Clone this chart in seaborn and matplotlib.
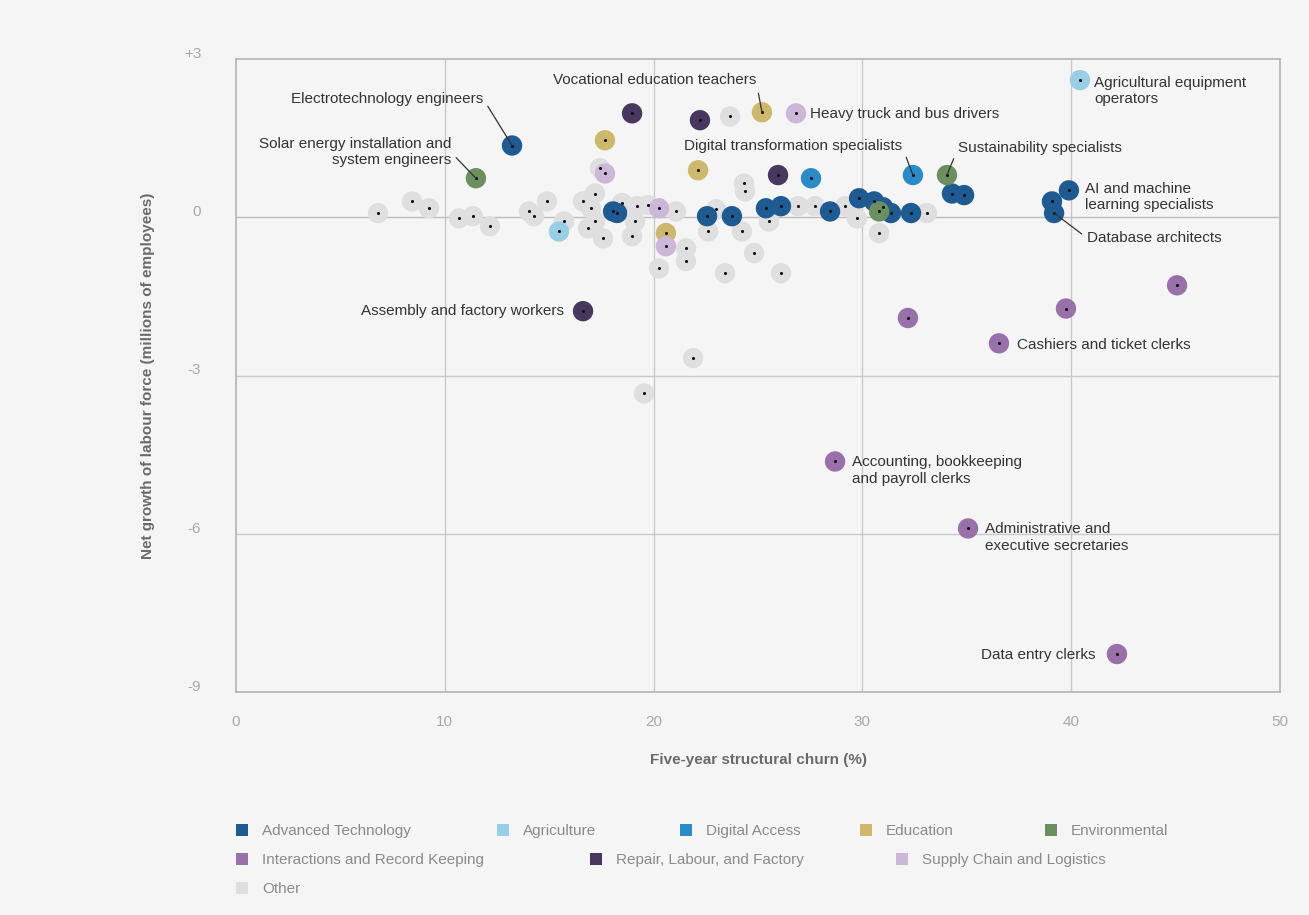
import matplotlib
matplotlib.use("Agg")
import matplotlib.pyplot as plt
import matplotlib.transforms as mtransforms
from matplotlib.patches import Patch
import pandas as pd
import seaborn as sns

# ---- data: five-year structural churn (%) and net growth (millions) per occupation ----
adv_tech_churn = [13.22, 18.06, 18.25, 22.56, 23.75, 25.38, 26.10, 28.45, 29.84, 30.56,
                  30.99, 31.37, 32.33, 34.29, 34.87, 39.08, 39.89, 39.18]
adv_tech_growth = [1.36, 0.11, 0.08, 0.02, 0.02, 0.17, 0.21, 0.11, 0.36, 0.30,
                   0.19, 0.08, 0.08, 0.45, 0.42, 0.30, 0.51, 0.08]

agri_churn = [40.42, 15.47]
agri_growth = [2.60, -0.27]

digital_churn = [27.54, 32.42]
digital_growth = [0.74, 0.80]

edu_churn = [17.67, 25.19, 22.13, 20.59]
edu_growth = [1.46, 1.99, 0.89, -0.30]

env_churn = [11.49, 34.05, 30.80]
env_growth = [0.74, 0.80, 0.11]

records_churn = [32.18, 39.75, 45.07, 36.54, 28.69, 35.06, 42.19]
records_growth = [-1.91, -1.73, -1.29, -2.39, -4.63, -5.90, -8.28]

repair_churn = [18.97, 22.22, 25.96, 16.62]
repair_growth = [1.97, 1.84, 0.80, -1.78]

supply_churn = [17.67, 20.26, 20.59, 26.82]
supply_growth = [0.83, 0.17, -0.55, 1.97]

other_churn = [6.80, 8.43, 9.24, 10.68, 11.35, 12.16, 14.03, 14.27, 14.89, 15.71,
               16.62, 17.19, 17.00, 17.19, 16.86, 17.58, 17.43, 18.49, 19.20, 19.11,
               18.97, 19.73, 20.26, 21.07, 21.55, 21.55, 21.89, 19.54, 22.61, 24.23,
               24.81, 23.42, 26.10, 23.66, 24.33, 24.38, 25.53, 26.92, 27.73, 29.17,
               29.74, 30.80, 33.09, 22.99]
other_growth = [0.08, 0.30, 0.17, -0.02, 0.02, -0.17, 0.11, 0.02, 0.30, -0.08,
                0.30, 0.45, 0.17, -0.08, -0.21, -0.40, 0.93, 0.27, 0.21, -0.08,
                -0.36, 0.23, -0.97, 0.11, -0.59, -0.83, -2.67, -3.34, -0.27, -0.27,
                -0.68, -1.06, -1.06, 1.91, 0.64, 0.49, -0.08, 0.21, 0.21, 0.21,
                -0.02, -0.30, 0.08, 0.15]

categories = ["Advanced Technology", "Agriculture", "Digital Access", "Education",
              "Environmental", "Interactions and Record Keeping",
              "Repair, Labour, and Factory", "Supply Chain and Logistics", "Other"]
colors = ["#1f5b93", "#98cfe6", "#2b8bc8", "#cdb86c", "#6b8f5f",
          "#9a70ab", "#48375f", "#cbb8d8", "#dfdfdf"]

x_ticks = [0, 10, 20, 30, 40, 50]
y_ticks = [3, 0, -3, -6, -9]
y_tick_labels = ["+3", "0", "-3", "-6", "-9"]

series = {
    "Advanced Technology": (adv_tech_churn, adv_tech_growth),
    "Agriculture": (agri_churn, agri_growth),
    "Digital Access": (digital_churn, digital_growth),
    "Education": (edu_churn, edu_growth),
    "Environmental": (env_churn, env_growth),
    "Interactions and Record Keeping": (records_churn, records_growth),
    "Repair, Labour, and Factory": (repair_churn, repair_growth),
    "Supply Chain and Logistics": (supply_churn, supply_growth),
    "Other": (other_churn, other_growth),
}

# named occupations: (text, category, index within category)
named = [
    ("Agricultural equipment\noperators", "Agriculture", 0),
    ("Heavy truck and bus drivers", "Supply Chain and Logistics", 3),
    ("Vocational education teachers", "Education", 1),
    ("Electrotechnology engineers", "Advanced Technology", 0),
    ("Solar energy installation and\nsystem engineers", "Environmental", 0),
    ("Digital transformation specialists", "Digital Access", 1),
    ("Sustainability specialists", "Environmental", 1),
    ("AI and machine\nlearning specialists", "Advanced Technology", 16),
    ("Database architects", "Advanced Technology", 17),
    ("Assembly and factory workers", "Repair, Labour, and Factory", 3),
    ("Cashiers and ticket clerks", "Interactions and Record Keeping", 3),
    ("Accounting, bookkeeping\nand payroll clerks", "Interactions and Record Keeping", 4),
    ("Administrative and\nexecutive secretaries", "Interactions and Record Keeping", 5),
    ("Data entry clerks", "Interactions and Record Keeping", 6),
]

# label placement: offset in pixels, alignment, whether a leader line is drawn
label_layout = [
    ((14, -11), "left", False),
    ((14, -1), "left", False),
    ((-6, 32), "right", True),
    ((-29, 47), "right", True),
    ((-25, 26), "right", True),
    ((-11, 29), "right", True),
    ((11, 27), "left", True),
    ((16, -7), "left", False),
    ((33, -25), "left", True),
    ((-19, 0), "right", False),
    ((18, -2), "left", False),
    ((17, -9), "left", False),
    ((17, -9), "left", False),
    ((-21, -1), "right", False),
]

# ---- build long-form table, background group drawn first ----
frames = []
for cat in ["Other"] + categories[:-1]:
    cx, cy = series[cat]
    frames.append(pd.DataFrame({"churn": cx, "growth": cy, "group": cat}))
df = pd.concat(frames, ignore_index=True)

BG = "#f5f5f5"
sns.set_theme(style="white")
plt.rcParams["font.family"] = ["Liberation Sans", "DejaVu Sans"]

W, H = 1309, 915
fig = plt.figure(figsize=(W / 100, H / 100), dpi=100, facecolor=BG)
ax = fig.add_axes([236 / W, 1 - 692 / H, (1280 - 236) / W, (692 - 59) / H])
ax.set_facecolor(BG)

for gx in [10, 20, 30, 40]:
    ax.axvline(gx, color="#c9c9c9", lw=1.0, zorder=0)
for gy in [0, -3, -6]:
    ax.axhline(gy, color="#bdbdbd" if gy == 0 else "#c9c9c9", lw=1.0, zorder=0)

sns.scatterplot(data=df, x="churn", y="growth", hue="group", hue_order=categories,
                palette=dict(zip(categories, colors)), s=215, linewidth=0,
                legend=False, ax=ax, zorder=2)
sns.scatterplot(data=df, x="churn", y="growth", color="#111111", s=5, linewidth=0,
                legend=False, ax=ax, zorder=3)

ax.set_xlim(0, 50)
ax.set_ylim(-9, 3)
ax.set_xticks(x_ticks)
ax.set_yticks(y_ticks)
ax.set_yticklabels(y_tick_labels)
ax.tick_params(axis="both", length=0, labelsize=11, labelcolor="#a8a8a8")
ax.tick_params(axis="x", pad=16.5)
ax.tick_params(axis="y", pad=25)
# y labels sit a little above their gridlines
lift = mtransforms.ScaledTranslation(0, 6.5 / 100, fig.dpi_scale_trans)
for lbl in ax.get_yticklabels():
    lbl.set_transform(lbl.get_transform() + lift)
for sp in ax.spines.values():
    sp.set_color("#b3b3b3")
    sp.set_linewidth(1.2)

ax.set_xlabel("Five-year structural churn (%)", fontsize=11, fontweight="bold",
              color="#6a6a6a", labelpad=17)
ax.set_ylabel("Net growth of labour force (millions of employees)", fontsize=11,
              fontweight="bold", color="#6a6a6a", labelpad=21)

for (text, cat, idx), (offset, ha, leader) in zip(named, label_layout):
    px = series[cat][0][idx]
    py = series[cat][1][idx]
    arrow = None
    if leader:
        arrow = dict(arrowstyle="-", color="#333333", lw=0.9, shrinkA=2, shrinkB=0,
                     relpos=(1.0, 0.5) if ha == "right" else (0.0, 0.5))
    ax.annotate(text, xy=(px, py), xytext=offset, textcoords="offset pixels",
                ha=ha, va="center", fontsize=11, color="#333333",
                multialignment=ha, arrowprops=arrow, zorder=4)

# legend laid out in rows below the plot
legend_slots = [(236, 831), (497, 831), (680, 831), (860, 831), (1045, 831),
                (236, 860), (590, 860), (896, 860), (236, 889)]
for cat, col, (lx, ly) in zip(categories, colors, legend_slots):
    fig.legend(handles=[Patch(facecolor=col, edgecolor="none", label=cat)],
               loc="center left", bbox_to_anchor=(lx / W, 1 - ly / H),
               frameon=False, fontsize=11, labelcolor="#8a8a8a",
               handlelength=0.8, handleheight=0.8, handletextpad=0.9,
               borderpad=0, borderaxespad=0)

fig.savefig("out.png", dpi=100, facecolor=BG)
